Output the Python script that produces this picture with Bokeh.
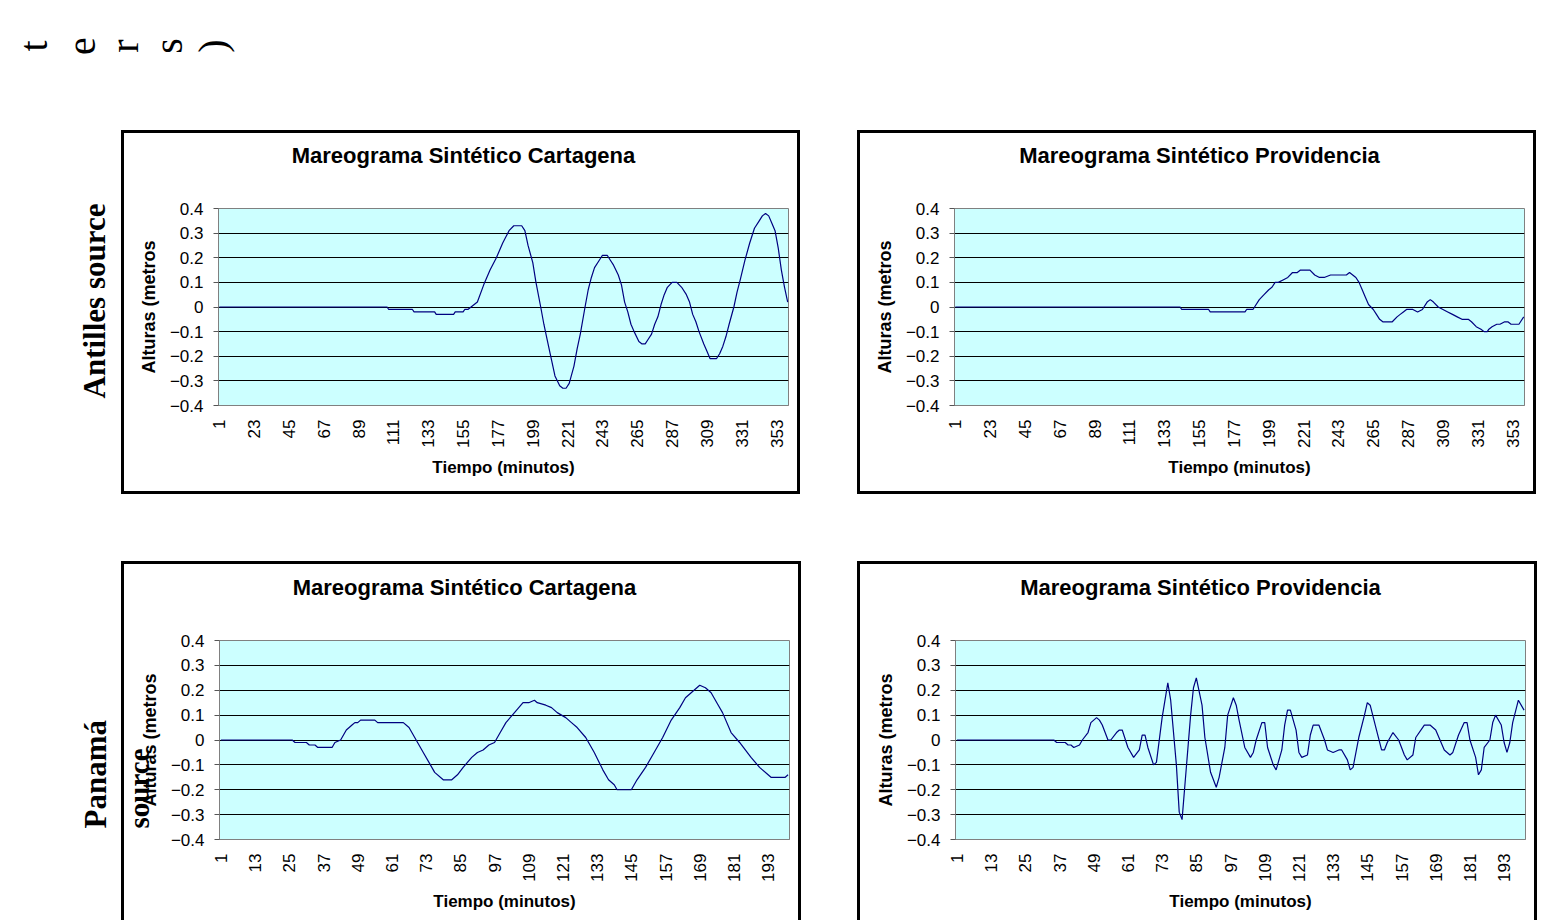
import math
from bokeh.plotting import figure
from bokeh.models import Range1d, FixedTicker, Spacer, Title
from bokeh.layouts import row, column
from bokeh.embed import file_html
from bokeh.resources import INLINE
from bokeh.core.properties import value

# ---------------- data ----------------
ant_cart_t = [1, 107, 108, 123, 124, 137, 138, 149, 150, 155, 156, 158, 160, 162, 164, 168, 172, 176, 180, 184,
              187, 192, 194, 196, 199, 201, 204, 206, 208, 210, 213, 216, 218, 220, 222, 225, 227, 229, 232, 234,
              236, 238, 241, 243, 246, 248, 250, 253, 255, 257, 259, 261, 263, 266, 268, 270, 272, 274, 276, 278,
              280, 282, 284, 287, 290, 293, 296, 298, 300, 302, 304, 307, 309, 311, 315, 317, 319, 321, 323, 326,
              328, 330, 333, 336, 339, 342, 344, 346, 348, 350, 352, 354, 356, 358, 360]
ant_cart_h = [0, 0, -0.01, -0.01, -0.02, -0.02, -0.03, -0.03, -0.02, -0.02, -0.01, -0.01, 0.0, 0.01, 0.02, 0.09, 0.15, 0.2, 0.26, 0.31,
              0.33, 0.33, 0.31, 0.25, 0.18, 0.1, 0.0, -0.07, -0.13, -0.19, -0.28, -0.32, -0.33, -0.33, -0.31, -0.24, -0.17, -0.11, 0.0, 0.07,
              0.12, 0.16, 0.19, 0.21, 0.21, 0.19, 0.17, 0.13, 0.09, 0.02, -0.02, -0.07, -0.1, -0.14, -0.15, -0.15, -0.13, -0.11, -0.07, -0.04,
              0.01, 0.05, 0.08, 0.1, 0.1, 0.08, 0.05, 0.02, -0.03, -0.06, -0.1, -0.15, -0.18, -0.21, -0.21, -0.19, -0.16, -0.12, -0.07, 0.0,
              0.06, 0.11, 0.19, 0.26, 0.32, 0.35, 0.37, 0.38, 0.37, 0.34, 0.31, 0.24, 0.15, 0.08, 0.02]

ant_prov_t = [1, 143, 144, 161, 162, 184, 185, 189, 190, 193, 196, 199, 201, 203, 205, 208, 211, 214, 217, 219,
              225, 228, 231, 234, 238, 248, 250, 252, 254, 256, 258, 260, 262, 265, 267, 269, 271, 277, 280, 282,
              284, 286, 290, 293, 296, 299, 301, 303, 306, 309, 312, 315, 318, 321, 325, 327, 330, 333, 335, 337,
              338, 340, 343, 345, 348, 350, 352, 357, 358, 360]
ant_prov_h = [0, 0, -0.01, -0.01, -0.02, -0.02, -0.01, -0.01, 0.0, 0.03, 0.05, 0.07, 0.08, 0.1, 0.1, 0.11, 0.12, 0.14, 0.14, 0.15,
              0.15, 0.13, 0.12, 0.12, 0.13, 0.13, 0.14, 0.13, 0.12, 0.1, 0.07, 0.04, 0.01, -0.01, -0.03, -0.05, -0.06, -0.06, -0.04, -0.03,
              -0.02, -0.01, -0.01, -0.02, -0.01, 0.02, 0.03, 0.02, 0.0, -0.01, -0.02, -0.03, -0.04, -0.05, -0.05, -0.06, -0.08, -0.09, -0.1, -0.1,
              -0.09, -0.08, -0.07, -0.07, -0.06, -0.06, -0.07, -0.07, -0.06, -0.04]

pan_cart_t = [1, 26, 27, 31, 32, 34, 35, 40, 41, 43, 45, 47, 48, 49, 50, 55, 56, 65, 67, 68,
              70, 72, 74, 76, 79, 82, 84, 86, 89, 91, 93, 95, 97, 99, 101, 104, 107, 109, 111, 112,
              115, 117, 119, 122, 124, 126, 129, 132, 135, 137, 139, 140, 145, 147, 150, 153, 156, 159, 162, 164,
              167, 169, 171, 173, 175, 177, 180, 183, 187, 190, 193, 194, 199, 200]
pan_cart_h = [0, 0, -0.01, -0.01, -0.02, -0.02, -0.03, -0.03, -0.01, 0.0, 0.04, 0.06, 0.07, 0.07, 0.08, 0.08, 0.07, 0.07, 0.05, 0.03,
              -0.01, -0.05, -0.09, -0.13, -0.16, -0.16, -0.14, -0.11, -0.07, -0.05, -0.04, -0.02, -0.01, 0.03, 0.07, 0.11, 0.15, 0.15, 0.16, 0.15,
              0.14, 0.13, 0.11, 0.09, 0.07, 0.05, 0.01, -0.05, -0.12, -0.16, -0.18, -0.2, -0.2, -0.16, -0.11, -0.05, 0.01, 0.08, 0.13, 0.17,
              0.2, 0.22, 0.21, 0.19, 0.15, 0.11, 0.03, -0.01, -0.07, -0.11, -0.14, -0.15, -0.15, -0.14]

pan_prov_t = [1, 35, 36, 39, 40, 41, 42, 44, 45, 47, 48, 50, 51, 52, 53, 54, 55, 57, 58, 59,
              61, 63, 65, 66, 67, 68, 70, 71, 73, 75, 76, 78, 79, 80, 81, 83, 84, 85, 87, 88,
              90, 92, 93, 95, 96, 98, 99, 100, 102, 104, 105, 106, 108, 109, 110, 112, 113, 115, 116, 117,
              118, 120, 121, 122, 124, 125, 126, 128, 130, 131, 133, 135, 136, 138, 139, 140, 142, 144, 145, 146,
              148, 150, 151, 152, 154, 156, 158, 159, 161, 162, 165, 167, 169, 172, 174, 175, 177, 179, 180, 181,
              183, 184, 185, 186, 188, 189, 190, 192, 193, 194, 195, 196, 198, 200]
pan_prov_h = [0, 0, -0.01, -0.01, -0.02, -0.02, -0.03, -0.02, 0.0, 0.03, 0.07, 0.09, 0.08, 0.06, 0.03, 0.0, 0.0, 0.03, 0.04, 0.04,
              -0.03, -0.07, -0.04, 0.02, 0.02, -0.03, -0.1, -0.09, 0.09, 0.23, 0.16, -0.1, -0.29, -0.32, -0.18, 0.1, 0.21, 0.25, 0.14, 0.01,
              -0.13, -0.19, -0.15, -0.03, 0.1, 0.17, 0.14, 0.08, -0.03, -0.07, -0.05, 0.0, 0.07, 0.07, -0.03, -0.1, -0.12, -0.04, 0.06, 0.12,
              0.12, 0.04, -0.05, -0.07, -0.06, 0.02, 0.06, 0.06, 0.0, -0.04, -0.05, -0.04, -0.04, -0.08, -0.12, -0.11, 0.01, 0.1, 0.15, 0.14,
              0.05, -0.04, -0.04, -0.01, 0.03, 0.0, -0.06, -0.08, -0.06, 0.01, 0.06, 0.06, 0.04, -0.04, -0.06, -0.05, 0.02, 0.07, 0.07, 0.0,
              -0.07, -0.14, -0.12, -0.03, 0.0, 0.07, 0.1, 0.06, -0.01, -0.05, -0.01, 0.07, 0.16, 0.12]

ant_n = 360
pan_n = 200
ant_ticks = [1, 23, 45, 67, 89, 111, 133, 155, 177, 199, 221, 243, 265, 287, 309, 331, 353]
pan_ticks = [1, 13, 25, 37, 49, 61, 73, 85, 97, 109, 121, 133, 145, 157, 169, 181, 193]
y_ticks = [-0.4, -0.3, -0.2, -0.1, 0, 0.1, 0.2, 0.3, 0.4]
title_cart = "Mareograma Sintético Cartagena"
title_prov = "Mareograma Sintético Providencia"
x_title = "Tiempo (minutos)"
y_title = "Alturas (metros"
row_labels = ["Antilles source", "Panamá", "source"]
corner_chars = ["t", "e", "r", "s", ")"]

SANS = "Liberation Sans"
SERIF = "Liberation Serif"


def blank(w, hgt):
    b = figure(width=w, height=hgt, x_range=Range1d(0, w), y_range=Range1d(0, hgt),
               output_backend="svg", toolbar_location=None, x_axis_type=None, y_axis_type=None,
               min_border=0, border_fill_color=None, background_fill_color=None, outline_line_color=None)
    b.grid.visible = False
    return b


def box(t, h, n, ticks, title, W, H, L, R, TOP, B, shadow):
    TS = 50   # title strip height
    tf = blank(W, TS)
    tf.text(x=[L + 285 - 40], y=[TS - (TOP - 53)], text=[title], text_align="center", text_baseline="middle",
            text_font=value(SANS), text_font_style="bold", text_font_size="22px", text_color="black")

    p = figure(width=W, height=H - TS, x_range=Range1d(0.5, n + 0.5), y_range=Range1d(-0.4, 0.4),
               output_backend="svg", toolbar_location=None,
               min_border_left=L, min_border_right=R, min_border_top=TOP - TS, min_border_bottom=B,
               background_fill_color="#CCFFFF", border_fill_color=None,
               outline_line_color="#808080", outline_line_width=1)
    p.line(t, h, line_color="#000080", line_width=1.2)
    p.xgrid.visible = False
    p.ygrid.ticker = FixedTicker(ticks=y_ticks[1:-1])
    p.ygrid.grid_line_color = "black"
    p.ygrid.grid_line_width = 1

    xa = p.xaxis[0]
    xa.ticker = FixedTicker(ticks=ticks)
    xa.major_label_orientation = math.pi / 2
    xa.major_tick_out = 0
    xa.major_tick_in = 0
    xa.minor_tick_out = 0
    xa.minor_tick_line_color = None
    xa.major_label_standoff = 14
    xa.major_label_text_font = SANS
    xa.major_label_text_font_size = "17px"
    xa.major_label_text_color = "black"
    xa.axis_line_color = "#808080"
    xa.axis_label = x_title
    xa.axis_label_text_font = SANS
    xa.axis_label_text_font_style = "bold"
    xa.axis_label_text_font_size = "17px"
    xa.axis_label_text_color = "black"
    xa.axis_label_standoff = 7

    ya = p.yaxis[0]
    ya.ticker = FixedTicker(ticks=y_ticks)
    ya.major_label_overrides = {0: "0"}
    ya.minor_tick_line_color = None
    ya.minor_tick_out = 0
    ya.major_tick_out = 5
    ya.major_tick_in = 0
    ya.major_tick_line_color = "#555555"
    ya.axis_line_color = "#808080"
    ya.major_label_standoff = 10
    ya.major_label_text_font = SANS
    ya.major_label_text_font_size = "17px"
    ya.major_label_text_color = "black"
    ya.axis_label = y_title
    ya.axis_label_text_font = SANS
    ya.axis_label_text_font_style = "bold"
    ya.axis_label_text_font_size = "18px"
    ya.axis_label_text_color = "black"
    ya.axis_label_standoff = 8

    # title strip wrapped in a row so that its frame is not aligned with the chart frame
    return p, column(row(tf), p, styles={"box-shadow": shadow})


full_box = "inset 0 0 0 3px black"
open_box = "inset 3px 3px 0 0 black, inset -3px 0 0 0 black"

p1, b1 = box(ant_cart_t, ant_cart_h, ant_n, ant_ticks, title_cart, 679, 364, 97, 12, 78, 89, full_box)
p2, b2 = box(ant_prov_t, ant_prov_h, ant_n, ant_ticks, title_prov, 679, 364, 97, 12, 78, 89, full_box)
p3, b3 = box(pan_cart_t, pan_cart_h, pan_n, pan_ticks, title_cart, 680, 359, 98, 12, 79, 81, open_box)
p4, b4 = box(pan_prov_t, pan_prov_h, pan_n, pan_ticks, title_prov, 680, 359, 98, 12, 79, 81, open_box)

# second line of the "Panamá source" row label sits inside the lower-left box
p3.add_layout(Title(text=row_labels[2], align="left", offset=11, standoff=-36, vertical_align="bottom",
                    text_font=SERIF, text_font_style="bold", text_font_size="29px", text_color="black"), "left")

# top strip with the rotated remains of "(meters)"
top = blank(1537, 130)
top.text(x=[33, 81, 124, 168, 212], y=[130 - 45.5] * 5, text=corner_chars, angle=math.pi / 2,
         text_align="center", text_baseline="middle", text_font=value(SERIF),
         text_font_size="40px", text_color="black")

# left strip with row labels (page x 0..121, page y 130..920)
LH = 790
left = blank(121, LH)
left.text(x=[94], y=[LH - (300.5 - 130)], text=[row_labels[0]], angle=math.pi / 2, text_align="center",
          text_baseline="middle", text_font=value(SERIF), text_font_style="bold",
          text_font_size="31px", text_color="black")
left.text(x=[95], y=[LH - (828 - 130)], text=[row_labels[1]], angle=math.pi / 2, text_align="left",
          text_baseline="middle", text_font=value(SERIF), text_font_style="bold",
          text_font_size="31px", text_color="black")

grid = column(
    row(b1, Spacer(width=57, height=364), b2),
    Spacer(width=1416, height=67),
    row(b3, Spacer(width=56, height=359), b4),
)
layout = column(row(top), row(left, grid))

open("out.html", "w").write(file_html(layout, INLINE, "Mareogramas"))
